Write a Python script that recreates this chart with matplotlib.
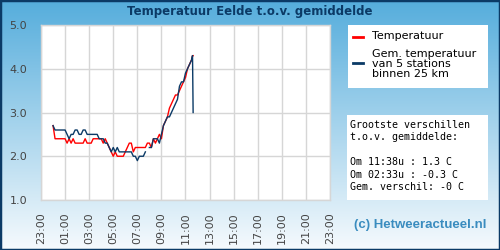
import numpy as np
import matplotlib
matplotlib.use('Agg')
import matplotlib.pyplot as plt
from matplotlib.lines import Line2D
from matplotlib.patches import Rectangle

NAVY = '#0b3a66'
RED = '#ff0000'
GRID = '#d6d6d6'
TICK = '#444444'

# measurement times (HH:MM) and values
times = [
    '00:00', '00:10', '00:20', '00:30', '00:40', '00:50',
    '01:00', '01:10', '01:20', '01:30', '01:40', '01:50',
    '02:00', '02:10', '02:20', '02:30', '02:40', '02:50',
    '03:00', '03:10', '03:20', '03:30', '03:40', '03:50',
    '04:00', '04:10', '04:20', '04:30', '04:40', '04:50',
    '05:00', '05:10', '05:20', '05:30', '05:40', '05:50',
    '06:00', '06:10', '06:20', '06:30', '06:40', '06:50',
    '07:00', '07:10', '07:20', '07:30', '07:40', '07:50',
    '08:00', '08:10', '08:20', '08:30', '08:40', '08:50',
    '09:00', '09:10', '09:20', '09:30', '09:40', '09:50',
    '10:00', '10:10', '10:20', '10:30', '10:40', '10:50',
    '11:00', '11:10', '11:20', '11:30', '11:35', '11:38',
]
temp_eelde = [
    2.7, 2.4, 2.4, 2.4, 2.4, 2.4,
    2.4, 2.3, 2.4, 2.3, 2.4, 2.3,
    2.3, 2.3, 2.3, 2.3, 2.4, 2.3,
    2.3, 2.3, 2.4, 2.4, 2.4, 2.4,
    2.4, 2.3, 2.4, 2.3, 2.2, 2.1,
    2.0, 2.1, 2.0, 2.0, 2.0, 2.0,
    2.1, 2.2, 2.3, 2.3, 2.1, 2.2,
    2.2, 2.2, 2.2, 2.2, 2.2, 2.3,
    2.3, 2.2, 2.4, 2.3, 2.4, 2.5,
    2.4, 2.7, 2.8, 2.9, 3.1, 3.2,
    3.3, 3.4, 3.4, 3.5, 3.6, 3.7,
    3.8, 4.0, 4.1, 4.2, 4.3, 4.3,
]
temp_gem = [
    2.7, 2.6, 2.6, 2.6, 2.6, 2.6,
    2.6, 2.5, 2.4, 2.5, 2.5, 2.6,
    2.6, 2.5, 2.5, 2.6, 2.6, 2.5,
    2.5, 2.5, 2.5, 2.5, 2.5, 2.4,
    2.4, 2.4, 2.3, 2.3, 2.2, 2.1,
    2.2, 2.1, 2.2, 2.1, 2.1, 2.1,
    2.1, 2.1, 2.1, 2.1, 2.0, 2.0,
    1.9, 2.0, 2.0, 2.0, 2.1, np.nan,
    2.2, 2.2, 2.4, 2.4, 2.4, 2.3,
    2.5, 2.7, 2.8, 2.9, 2.9, 3.0,
    3.1, 3.2, 3.3, 3.6, 3.7, 3.7,
    3.9, 4.0, 4.1, 4.2, 4.3, 3.0,
]
tick_labels = ['23:00', '01:00', '03:00', '05:00', '07:00', '09:00', '11:00',
               '13:00', '15:00', '17:00', '19:00', '21:00', '23:00']
tick_hours = [-1, 1, 3, 5, 7, 9, 11, 13, 15, 17, 19, 21, 23]

hours = [int(t[:2]) + int(t[3:]) / 60 for t in times]

fig = plt.figure(figsize=(5, 2.5), dpi=100)

# background gradient
bg = fig.add_axes([0, 0, 1, 1])
bg.set_zorder(-10)
grad = np.linspace(0, 1, 256).reshape(-1, 1)
top = np.array([0x55, 0xad, 0xdc]) / 255
bot = np.array([0xf6, 0xfa, 0xfd]) / 255
img = top + (bot - top) * grad[:, :, None]
bg.imshow(img, aspect='auto', extent=[0, 1, 0, 1])
bg.axis('off')

# main chart
ax = fig.add_axes([41 / 500, 50 / 250, 289 / 500, 175 / 250])
ax.set_facecolor('white')
l1, = ax.plot(hours, temp_eelde, color=RED, lw=1.0, zorder=3)
l2, = ax.plot(hours, temp_gem, color=NAVY, lw=1.0, zorder=4)
ax.set_xlim(-1, 23)
ax.set_ylim(1.0, 5.0)
ax.set_xticks(tick_hours)
ax.set_xticklabels(tick_labels, rotation=90)
ax.set_yticks([1.0, 2.0, 3.0, 4.0, 5.0])
ax.set_yticklabels(['1.0', '2.0', '3.0', '4.0', '5.0'])
ax.tick_params(axis='both', length=0, labelsize=8, colors=TICK)
ax.tick_params(axis='x', pad=9)
ax.tick_params(axis='y', pad=10)
ax.grid(True, color=GRID, lw=1.0)
ax.set_axisbelow(True)
for s in ax.spines.values():
    s.set_color(GRID)
    s.set_linewidth(1.0)

fig.text(0.5, 1 - 11 / 250, 'Temperatuur Eelde t.o.v. gemiddelde',
         ha='center', va='center', fontsize=8.5, fontweight='bold', color=NAVY)

# legend box
lg = fig.add_axes([348 / 500, 162 / 250, 140 / 500, 63 / 250])
lg.set_facecolor('white')
lg.set_xticks([])
lg.set_yticks([])
for s in lg.spines.values():
    s.set_visible(False)
lg.set_xlim(0, 140)
lg.set_ylim(63, 0)
lg.add_line(Line2D([5, 15], [11.5, 11.5], color=l1.get_color(), lw=2))
lg.text(24, 11, 'Temperatuur', va='center', fontsize=8, color='black')
lg.add_line(Line2D([5, 15], [38, 38], color=l2.get_color(), lw=2))
lg.text(24, 39, 'Gem. temperatuur\nvan 5 stations\nbinnen 25 km', va='center',
        fontsize=8, color='black', linespacing=0.95)

# info box
ib = fig.add_axes([347 / 500, 50 / 250, 141 / 500, 85 / 250])
ib.set_facecolor('white')
ib.set_xticks([])
ib.set_yticks([])
for s in ib.spines.values():
    s.set_visible(False)
fig.text(350 / 500, 1 - 120 / 250,
         'Grootste verschillen\nt.o.v. gemiddelde:\n\nOm 11:38u : 1.3 C\n'
         'Om 02:33u : -0.3 C\nGem. verschil: -0 C',
         ha='left', va='top', family='DejaVu Sans Mono', fontsize=7.2,
         color='black', linespacing=1.3)

fig.text(487 / 500, 25 / 250, '(c) Hetweeractueel.nl', ha='right', va='center',
         family='Liberation Sans', fontweight='bold', fontsize=9.5, color='#3a8cbf')

fig.add_artist(Rectangle((0, 0), 1, 1, transform=fig.transFigure, fill=False,
                         edgecolor=NAVY, lw=2.5))

fig.savefig('out.png', dpi=100)
